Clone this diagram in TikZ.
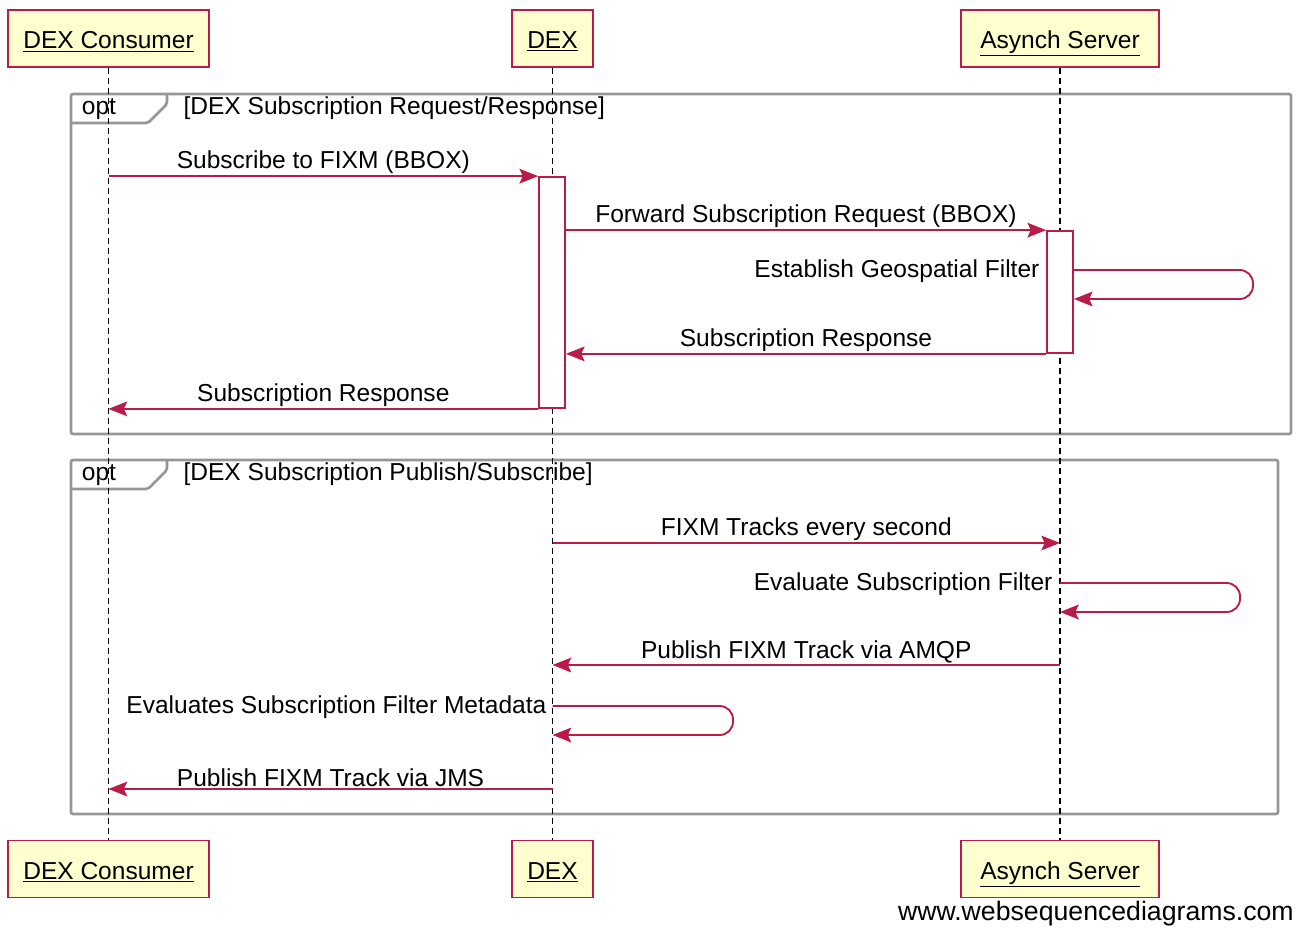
\documentclass[tikz,border=0pt]{standalone}
\usepackage{fontspec}
\setmainfont{Liberation Sans}
\usetikzlibrary{positioning,arrows.meta}

\definecolor{seqred}{RGB}{185,28,72}
\definecolor{boxfill}{RGB}{254,254,206}
\definecolor{framegray}{RGB}{150,150,150}
\newcommand{\seqfont}{\fontsize{18.4}{20}\selectfont}

\tikzset{
  actor/.style={draw=seqred, fill=boxfill, line width=1.3pt, minimum height=42.75pt, inner sep=0pt,
    text height=17pt, text depth=1.6pt, font=\seqfont},
  lifeline/.style={dash pattern=on 4.5pt off 3pt, line width=1.2pt},
  msg/.style={draw=seqred, line width=1.4pt, -{Stealth[length=14pt,width=11pt,inset=2.5pt]}},
  actbox/.style={draw=seqred, fill=white, line width=1.3pt, minimum width=19.5pt, inner sep=0pt},
  frame/.style={draw=framegray, line width=2pt, rounded corners=1.5pt},
  lbl/.style={font=\seqfont, inner sep=1pt}
}

\begin{document}
\begin{tikzpicture}[x=0.75pt, y=-0.75pt]
\useasboundingbox (0,0) rectangle (1298,928);

% opt frames
\draw[frame] (71,94) rectangle (1291,434);
\draw[frame] (71,123) -- (148,123) -- (167,104) -- (167,94);
\node[lbl] (opt1) at (99,109) {opt};
\node[lbl, anchor=west] (guard1) at (182,108) {[DEX Subscription Request/Response]};

\draw[frame] (71,460) rectangle (1278,814);
\draw[frame] (71,489) -- (148,489) -- (167,470) -- (167,460);
\node[lbl] (opt2) at (99,475) {opt};
\node[lbl, anchor=west] (guard2) at (182,474) {[DEX Subscription Publish/Subscribe]};

% participants
\node[actor, minimum width=150.75pt] (cons top) at (108.5,38.5) {\underline{DEX Consumer}};
\node[actor, minimum width=60.75pt] (dex top) at (552.5,38.5) {\underline{DEX}};
\node[actor, minimum width=148.5pt] (asy top) at (1060,38.5) {\underline{Asynch Server}};
\node[actor, minimum width=150.75pt] (cons bot) at (108.5,869) {\underline{DEX Consumer}};
\node[actor, minimum width=60.75pt] (dex bot) at (552.5,869) {\underline{DEX}};
\node[actor, minimum width=148.5pt] (asy bot) at (1060,869) {\underline{Asynch Server}};

\draw[lifeline] (cons top) -- (cons bot);
\draw[lifeline] (dex top) -- (dex bot);
\draw[lifeline] (asy top) -- (asy bot);

% activations
\node[actbox, minimum height=173.25pt] (dex act) at (552,292.5) {};
\node[actbox, minimum height=91.5pt] (asy act) at (1060,292) {};

% request / response
\draw[msg] (cons top.south |- dex act.north) -- node[lbl, above] {Subscribe to FIXM (BBOX)} (dex act.north west);
\draw[msg] (dex act.east |- asy act.north) -- node[lbl, above] {Forward Subscription Request (BBOX)} (asy act.north west);
\draw[msg, rounded corners=10pt] (asy act.east |- 0,270) -- (1253,270) -- (1253,299) -- (asy act.east |- 0,299);
\node[lbl, anchor=east] (geo) at (1041,271) {Establish Geospatial Filter};
\draw[msg] (asy act.south west) -- node[lbl, above] {Subscription Response} (dex act.east |- asy act.south);
\draw[msg] (dex act.south west) -- node[lbl, above] {Subscription Response} (cons top.south |- dex act.south);

% publish / subscribe
\draw[msg] (dex top.south |- 0,543) -- node[lbl, above] {FIXM Tracks every second} (asy top.south |- 0,543);
\draw[msg, rounded corners=10pt] (asy top.south |- 0,583) -- (1240,583) -- (1240,612) -- (asy top.south |- 0,612);
\node[lbl, anchor=east] (evalf) at (1054,584) {Evaluate Subscription Filter};
\draw[msg] (asy top.south |- 0,665) -- node[lbl, above] {Publish FIXM Track via AMQP} (dex top.south |- 0,665);
\draw[msg, rounded corners=10pt] (dex top.south |- 0,706) -- (733,706) -- (733,735) -- (dex top.south |- 0,735);
\node[lbl, anchor=east] (evalm) at (548,707) {Evaluates Subscription Filter Metadata};
\draw[msg] (dex top.south |- 0,789) -- node[lbl, above] {Publish FIXM Track via JMS} (cons top.south |- 0,789);

\node[font=\fontsize{20}{22}\selectfont, anchor=east, inner sep=0pt] (credit) at (1294,914) {www.websequencediagrams.com};
\end{tikzpicture}
\end{document}
